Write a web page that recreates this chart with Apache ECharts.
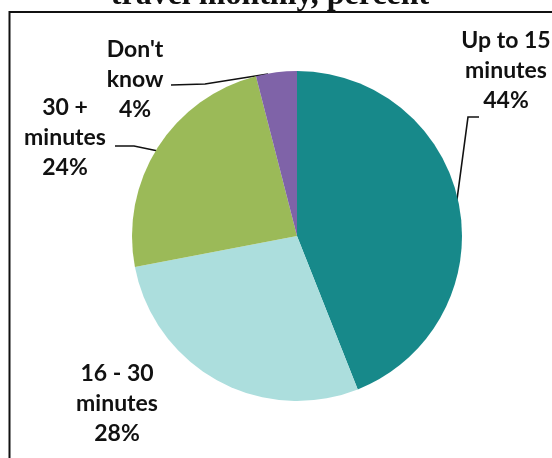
<!DOCTYPE html>
<html>
<head>
<meta charset="utf-8">
<script src="https://cdn.jsdelivr.net/npm/echarts@6/dist/echarts.min.js"></script>
<style>
html,body{margin:0;padding:0;background:#fff;}
#chart{width:552px;height:458px;}
</style>
</head>
<body>
<div id="chart"></div>
<script>
// Data
const categories = ["Up to 15\nminutes", "16 - 30\nminutes", "30 +\nminutes", "Don't\nknow"];
const values = [44, 28, 24, 4];
const colors = ["#17898a", "#acdedd", "#9bba58", "#7f63a8"];
const titleText = "travel monthly, percent";

// Label layout (positions of label blocks and leader lines)
const labelPos = [
  {x: 506, y: 71, line: [[456, 207], [468, 117], [479, 117]]},
  {x: 117, y: 404, line: null},
  {x: 65, y: 138, line: [[158, 151], [134, 146], [115, 146]]},
  {x: 135, y: 80, line: [[268, 74], [205, 84], [171, 85]]}
];

const chart = echarts.init(document.getElementById('chart'), null, {renderer: 'canvas'});
chart.setOption({
  backgroundColor: '#ffffff',
  animation: false,
  graphic: [
    {type: 'rect', shape: {x: 9.5, y: 12, width: 600, height: 500},
     style: {fill: 'none', stroke: '#111', lineWidth: 2}, z: 0},
    {type: 'text', x: 270, y: -4, style: {text: titleText, fill: '#111',
      font: 'bold 32px "Liberation Serif", serif', textAlign: 'center', textVerticalAlign: 'middle'}}
  ],
  series: [{
    type: 'pie',
    center: [297, 236],
    radius: 165,
    startAngle: 90,
    clockwise: true,
    avoidLabelOverlap: false,
    data: categories.map((c, i) => ({
      name: c,
      value: values[i],
      itemStyle: {color: colors[i]},
      labelLine: {show: !!labelPos[i].line}
    })),
    itemStyle: {borderWidth: 0},
    label: {
      show: true,
      formatter: p => p.name + '\n' + p.value + '%',
      fontFamily: 'Lato, "Open Sans", sans-serif',
      fontWeight: 'bold',
      fontSize: 23,
      lineHeight: 30,
      color: '#111',
      align: 'center'
    },
    labelLine: {show: true, lineStyle: {color: '#111', width: 1.6}, length: 10, length2: 10},
    labelLayout: function (params) {
      const lp = labelPos[params.dataIndex];
      const r = {x: lp.x, y: lp.y, align: 'center', verticalAlign: 'middle'};
      if (lp.line) r.labelLinePoints = lp.line;
      return r;
    },
    emphasis: {disabled: true}
  }]
});
</script>
</body>
</html>
